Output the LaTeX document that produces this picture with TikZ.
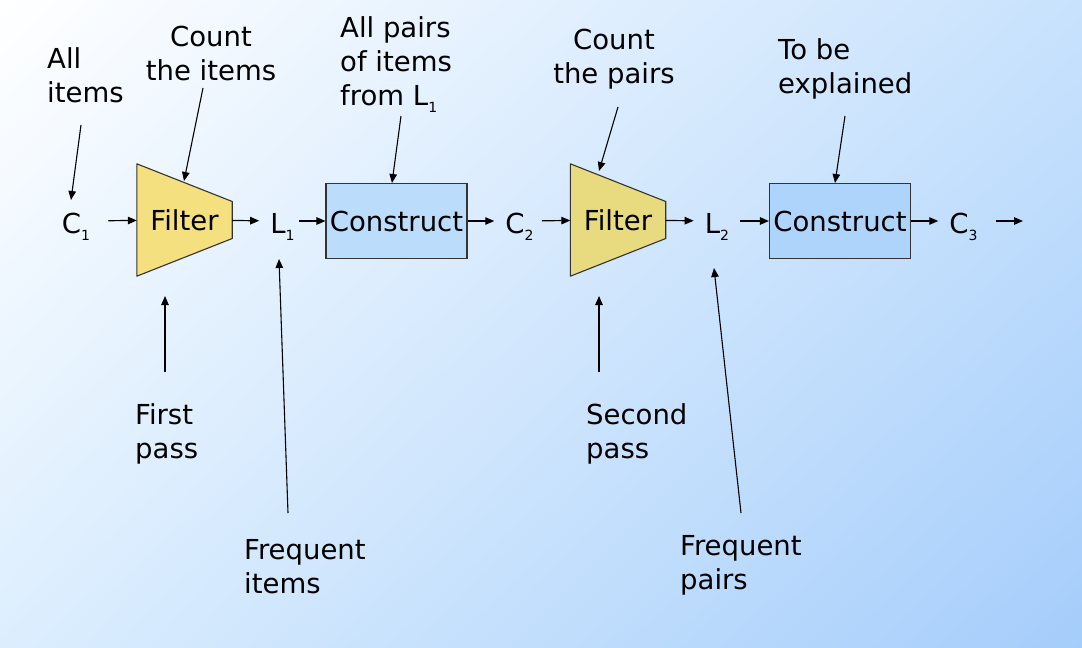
\documentclass[tikz,border=0pt]{standalone}
\usepackage{fontspec}
\setmainfont{DejaVu Sans}
\usetikzlibrary{positioning, arrows.meta, calc, backgrounds, shadings}
\definecolor{filtera}{HTML}{F5E07F}
\definecolor{filterb}{HTML}{E8DA7E}
\definecolor{constra}{HTML}{BCDCFC}
\definecolor{constrb}{HTML}{AFD4FB}
\definecolor{bgtr}{HTML}{C8E2FD}
\definecolor{bgbl}{HTML}{DCEEFE}
\definecolor{bgbr}{HTML}{A5CDFB}
\newcommand\annfont{\fontsize{27.5}{34}\selectfont}
\newcommand\subidx[1]{\raisebox{-7pt}{\fontsize{14}{14}\selectfont #1}}
\tikzset{
    chainlabel/.style={ % C_k and L_k on the main line
        font=\annfont,
        inner xsep=11pt,
        text height=24pt,
        text depth=0pt
    },
    note/.style={ % remarks round the main line
        font=\annfont,
        align=left,
        inner sep=0pt
    },
    filterbox/.style={
        font=\annfont,
        minimum width=95pt,
        minimum height=112pt,
        inner sep=0pt
    },
    filtershape/.style={
        draw=black!80,
        line width=1.1pt,
        line join=round
    },
    constructbox/.style={
        font=\annfont,
        draw=black!80,
        line width=1.1pt,
        minimum width=141pt,
        minimum height=75pt,
        inner sep=0pt
    },
    flow/.style={ % arrows along the main line
        -{Triangle[length=9pt,width=7.5pt]},
        line width=1.2pt
    },
    pointer/.style={ % arrows from the remarks
        -{Triangle[length=9pt,width=7.5pt]},
        line width=1.1pt
    }
}

\begin{document}
\begin{tikzpicture}[x=1pt, y=-1pt]
    \useasboundingbox (0,0) rectangle (1082,648);
    \begin{scope}[on background layer]
        \shade[upper left=white, upper right=bgtr, lower left=bgbl, lower right=bgbr]
            (0,0) rectangle (1082,648);
    \end{scope}

    % main line
    \node[chainlabel]                   (c1) at (76,221)    {C\subidx{1}};
    \node[filterbox]                    (f1) at (184.5,220) {Filter};
    \node[chainlabel]                   (l1) at (282.5,221) {L\subidx{1}};
    \node[constructbox, fill=constra]   (k1) at (396.5,221) {Construct};
    \node[chainlabel]                   (c2) at (519.5,221) {C\subidx{2}};
    \node[filterbox]                    (f2) at (618,220)   {Filter};
    \node[chainlabel]                   (l2) at (717,221)   {L\subidx{2}};
    \node[constructbox, fill=constrb]   (k2) at (840,221)   {Construct};
    \node[chainlabel]                   (c3) at (963.5,221) {C\subidx{3}};
    \coordinate (out) at (1023,221);

    \begin{scope}[on background layer]
        \filldraw[filtershape, fill=filtera] (f1.north west) -- ($(f1.east)+(0,-18.5)$)
            -- ($(f1.east)+(0,18.5)$) -- (f1.south west) -- cycle;
        \filldraw[filtershape, fill=filterb] (f2.north west) -- ($(f2.east)+(0,-18.5)$)
            -- ($(f2.east)+(0,18.5)$) -- (f2.south west) -- cycle;
    \end{scope}

    \path[flow] (c1) edge[shorten <=7pt] (f1)
                (f1) edge (l1)
                (l1) edge[shorten <=-7pt] (k1)
                (k1) edge (c2)
                (c2) edge[shorten <=-3pt] (f2)
                (f2) edge (l2)
                (l2) edge (k2)
                (k2) edge (c3)
                (c3) edge[shorten <=7pt] (out);

    % remarks
    \node[note, anchor=north west]             (allitems)   at (47,47)   {All\\items};
    \node[note, anchor=north, align=center]    (countitems) at (211,26)  {Count\\the items};
    \node[note, anchor=north west]             (allpairs)   at (340,16)  {All pairs\\of items\\from L\subidx{1}};
    \node[note, anchor=north, align=center]    (countpairs) at (614,29)  {Count\\the pairs};
    \node[note, anchor=north west]             (explained)  at (778,38)  {To be\\explained};
    \node[note, anchor=north west]             (firstpass)  at (135,403) {First\\pass};
    \node[note, anchor=north west]             (secondpass) at (586,403) {Second\\pass};
    \node[note, anchor=north west]             (freqitems)  at (244,539) {Frequent\\items};
    \node[note, anchor=north west]             (freqpairs)  at (680,535) {Frequent\\pairs};

    \coordinate (p1) at (81,125);   \coordinate (q1) at (71,200);
    \coordinate (p2) at (203,88);   \coordinate (q2) at (184,181);
    \coordinate (p3) at (401,116);  \coordinate (q3) at (392,183);
    \coordinate (p4) at (618,107);  \coordinate (q4) at (599,171);
    \coordinate (p5) at (845,116);  \coordinate (q5) at (835,183);
    \coordinate (p6) at (165,372);  \coordinate (q6) at (165,296);
    \coordinate (p7) at (599,372);  \coordinate (q7) at (599,296);
    \coordinate (p8) at (288,513);  \coordinate (q8) at (279,259);
    \coordinate (p9) at (741,513);  \coordinate (q9) at (714,268);
    \path[pointer] (p1) edge (q1)
                   (p2) edge (q2)
                   (p3) edge (q3)
                   (p4) edge (q4)
                   (p5) edge (q5)
                   (p6) edge (q6)
                   (p7) edge (q7)
                   (p8) edge (q8)
                   (p9) edge (q9);
\end{tikzpicture}
\end{document}
